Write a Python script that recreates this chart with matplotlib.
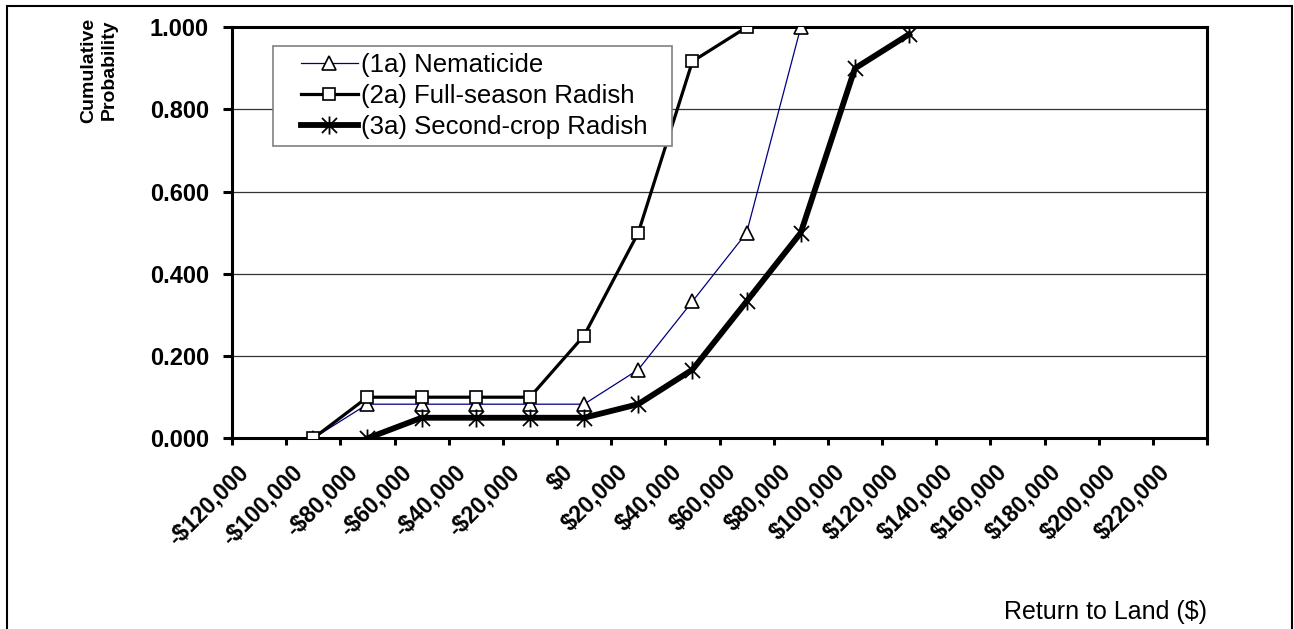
import numpy as np
import matplotlib
matplotlib.use("Agg")
import matplotlib.pyplot as plt
from matplotlib.path import Path
from matplotlib.patches import Rectangle
from matplotlib.transforms import ScaledTranslation

plt.rcParams['font.family'] = ['Liberation Sans', 'DejaVu Sans']

# categorias del eje x (retorno a la tierra)
x_labels = ['-$120,000', '-$100,000', '-$80,000', '-$60,000', '-$40,000', '-$20,000',
            '$0', '$20,000', '$40,000', '$60,000', '$80,000', '$100,000',
            '$120,000', '$140,000', '$160,000', '$180,000', '$200,000', '$220,000']

nan = np.nan
# probabilidad acumulada por categoria (nan = sin punto)
nematicide = [nan, 0.000, 0.083, 0.083, 0.083, 0.083, 0.083, 0.167, 0.333, 0.500,
              1.000, nan, nan, nan, nan, nan, nan, nan]
full_season = [nan, 0.000, 0.100, 0.100, 0.100, 0.100, 0.250, 0.500, 0.917, 1.000,
               nan, nan, nan, nan, nan, nan, nan, nan]
second_crop = [nan, nan, 0.000, 0.050, 0.050, 0.050, 0.050, 0.083, 0.167, 0.333,
               0.500, 0.900, 0.983, nan, nan, nan, nan, nan]

series_names = ['(1a) Nematicide', '(2a) Full-season Radish', '(3a) Second-crop Radish']
y_ticks = [0.0, 0.2, 0.4, 0.6, 0.8, 1.0]

W, H = 1294, 629
fig = plt.figure(figsize=(W / 100, H / 100), dpi=100)
ax = fig.add_axes([232 / W, 1 - 438.3 / H, 975 / W, 411 / H])

x = np.arange(len(x_labels))

# marcador estrella estilo Excel: X con barra vertical
star = Path([(-1, -1), (1, 1), (-1, 1), (1, -1), (0, -1.2), (0, 1.2)],
            [Path.MOVETO, Path.LINETO, Path.MOVETO, Path.LINETO, Path.MOVETO, Path.LINETO])

l1, = ax.plot(x, nematicide, color='#000080', lw=0.9, marker='^', ms=9.5,
              mfc='white', mec='black', mew=1.2, zorder=3)
l2, = ax.plot(x, full_season, color='black', lw=2.3, marker='s', ms=9,
              mfc='white', mec='black', mew=1.2, zorder=4)
l3, = ax.plot(x, second_crop, color='black', lw=4.2, marker=star, ms=13,
              mfc='none', mec='black', mew=1.3, zorder=5)

ax.set_xlim(-0.5, len(x_labels) - 0.5)
ax.set_ylim(0, 1)

# ticks mayores en los limites de categoria, etiquetas en los centros
ax.set_xticks(np.arange(len(x_labels) + 1) - 0.5)
ax.set_xticklabels([])
ax.set_xticks(x, minor=True)
ax.set_xticklabels(x_labels, minor=True, rotation=45, ha='right', va='top',
                   rotation_mode='anchor', fontweight='bold', fontsize=16.5)
ax.tick_params(axis='x', which='major', length=5, width=2.2, direction='out')
ax.tick_params(axis='x', which='minor', length=0, pad=16)
offset = ScaledTranslation(-0.22, 0, fig.dpi_scale_trans)
for lbl in ax.get_xticklabels(minor=True):
    lbl.set_transform(lbl.get_transform() + offset)

ax.set_yticks(y_ticks)
ax.set_yticklabels([f'{v:.3f}' for v in y_ticks], fontweight='bold', fontsize=17)
ax.tick_params(axis='y', length=6.5, width=2.2, direction='out', pad=10)

ax.yaxis.grid(True, color='#333333', lw=0.9)
ax.set_axisbelow(True)
for s in ax.spines.values():
    s.set_linewidth(2.2)
    s.set_color('black')

# caja de la leyenda (fondo blanco sobre la rejilla)
fig.patches.append(Rectangle((273 / W, 1 - 146 / H), (672 - 273) / W, 100 / H,
                             transform=fig.transFigure, fc='white',
                             ec='#808080', lw=1.2, zorder=4))
fig.legend([l1, l2, l3], series_names, loc='upper left',
           bbox_to_anchor=(301 / W, 1 - 53 / H), bbox_transform=fig.transFigure,
           fontsize=18.5, frameon=False, borderpad=0, borderaxespad=0,
           handlelength=2.2, handletextpad=0.15, labelspacing=0.28).set_zorder(5)

fig.text(1105 / W, 1 - 612 / H, 'Return to Land ($)', ha='center', va='center',
         fontsize=18)
fig.text(99 / W, 1 - 70 / H, 'Cumulative\nProbability', rotation=90,
         ha='center', va='center', fontweight='bold', fontsize=14,
         multialignment='center', linespacing=1.2)

# borde del area del grafico
fig.patches.append(Rectangle((7 / W, -0.1), (1292 - 7) / W, 1 - 6 / H + 0.1,
                             transform=fig.transFigure, fill=False,
                             lw=1.5, ec='black'))

fig.savefig('out.png', dpi=100)
